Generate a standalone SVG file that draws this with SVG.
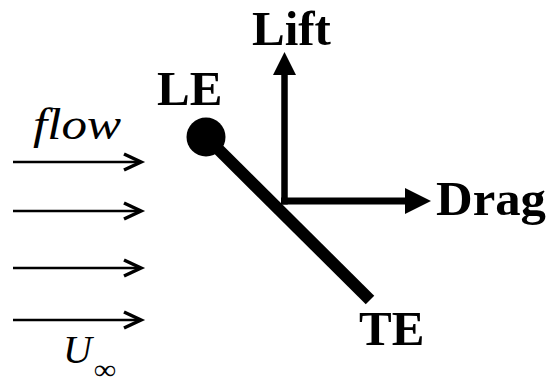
<svg xmlns="http://www.w3.org/2000/svg" width="550" height="386" viewBox="0 0 550 386">
<style>
.lbl{font-family:"Liberation Serif","Times New Roman",serif;font-weight:bold;font-size:49px;fill:#000}
.it{font-family:"Liberation Serif","Times New Roman",serif;font-style:italic;fill:#000}
.flow{stroke:#000;stroke-width:2.5;fill:none}
.chev{stroke:#000;stroke-width:3.5;fill:none;stroke-linejoin:miter}
</style>
<rect width="550" height="386" fill="#fff"/>
<g id="connectors">
  <g id="flow-arrows">
    <line class="flow" x1="13" y1="162" x2="141" y2="162"/>
    <polyline class="chev" points="124,154 141,162 124,170"/>
    <line class="flow" x1="13" y1="211" x2="141" y2="211"/>
    <polyline class="chev" points="124,203 141,211 124,219"/>
    <line class="flow" x1="13" y1="268" x2="141" y2="268"/>
    <polyline class="chev" points="124,260 141,268 124,276"/>
    <line class="flow" x1="13" y1="320" x2="141" y2="320"/>
    <polyline class="chev" points="124,312 141,320 124,328"/>
  </g>
  <g id="lift-arrow">
    <line x1="284.5" y1="204.5" x2="284.5" y2="72" stroke="#000" stroke-width="6.5"/>
    <polygon points="284.5,52 296,75 273,75" fill="#000"/>
  </g>
  <g id="drag-arrow">
    <line x1="281" y1="201" x2="408" y2="201" stroke="#000" stroke-width="7"/>
    <polygon points="431,201 405,188 405,214" fill="#000"/>
  </g>
</g>
<g id="plate">
  <line x1="206" y1="137" x2="370" y2="300" stroke="#000" stroke-width="12"/>
  <circle cx="206" cy="137" r="19.5" fill="#000"/>
</g>
<g id="label-flow"><text class="it" x="33" y="139" font-size="44" textLength="88" lengthAdjust="spacingAndGlyphs">flow</text></g>
<g id="label-uinf">
  <text class="it" x="63" y="363" font-size="40">U</text>
  <text class="it" x="94" y="379" font-size="28" textLength="22" lengthAdjust="spacingAndGlyphs">∞</text>
</g>
<g id="label-le"><text class="lbl" x="157" y="105">LE</text></g>
<g id="label-lift"><text class="lbl" x="252" y="45">Lift</text></g>
<g id="label-drag"><text class="lbl" x="436" y="215" textLength="110" lengthAdjust="spacingAndGlyphs">Drag</text></g>
<g id="label-te"><text class="lbl" x="359" y="345">TE</text></g>
</svg>
